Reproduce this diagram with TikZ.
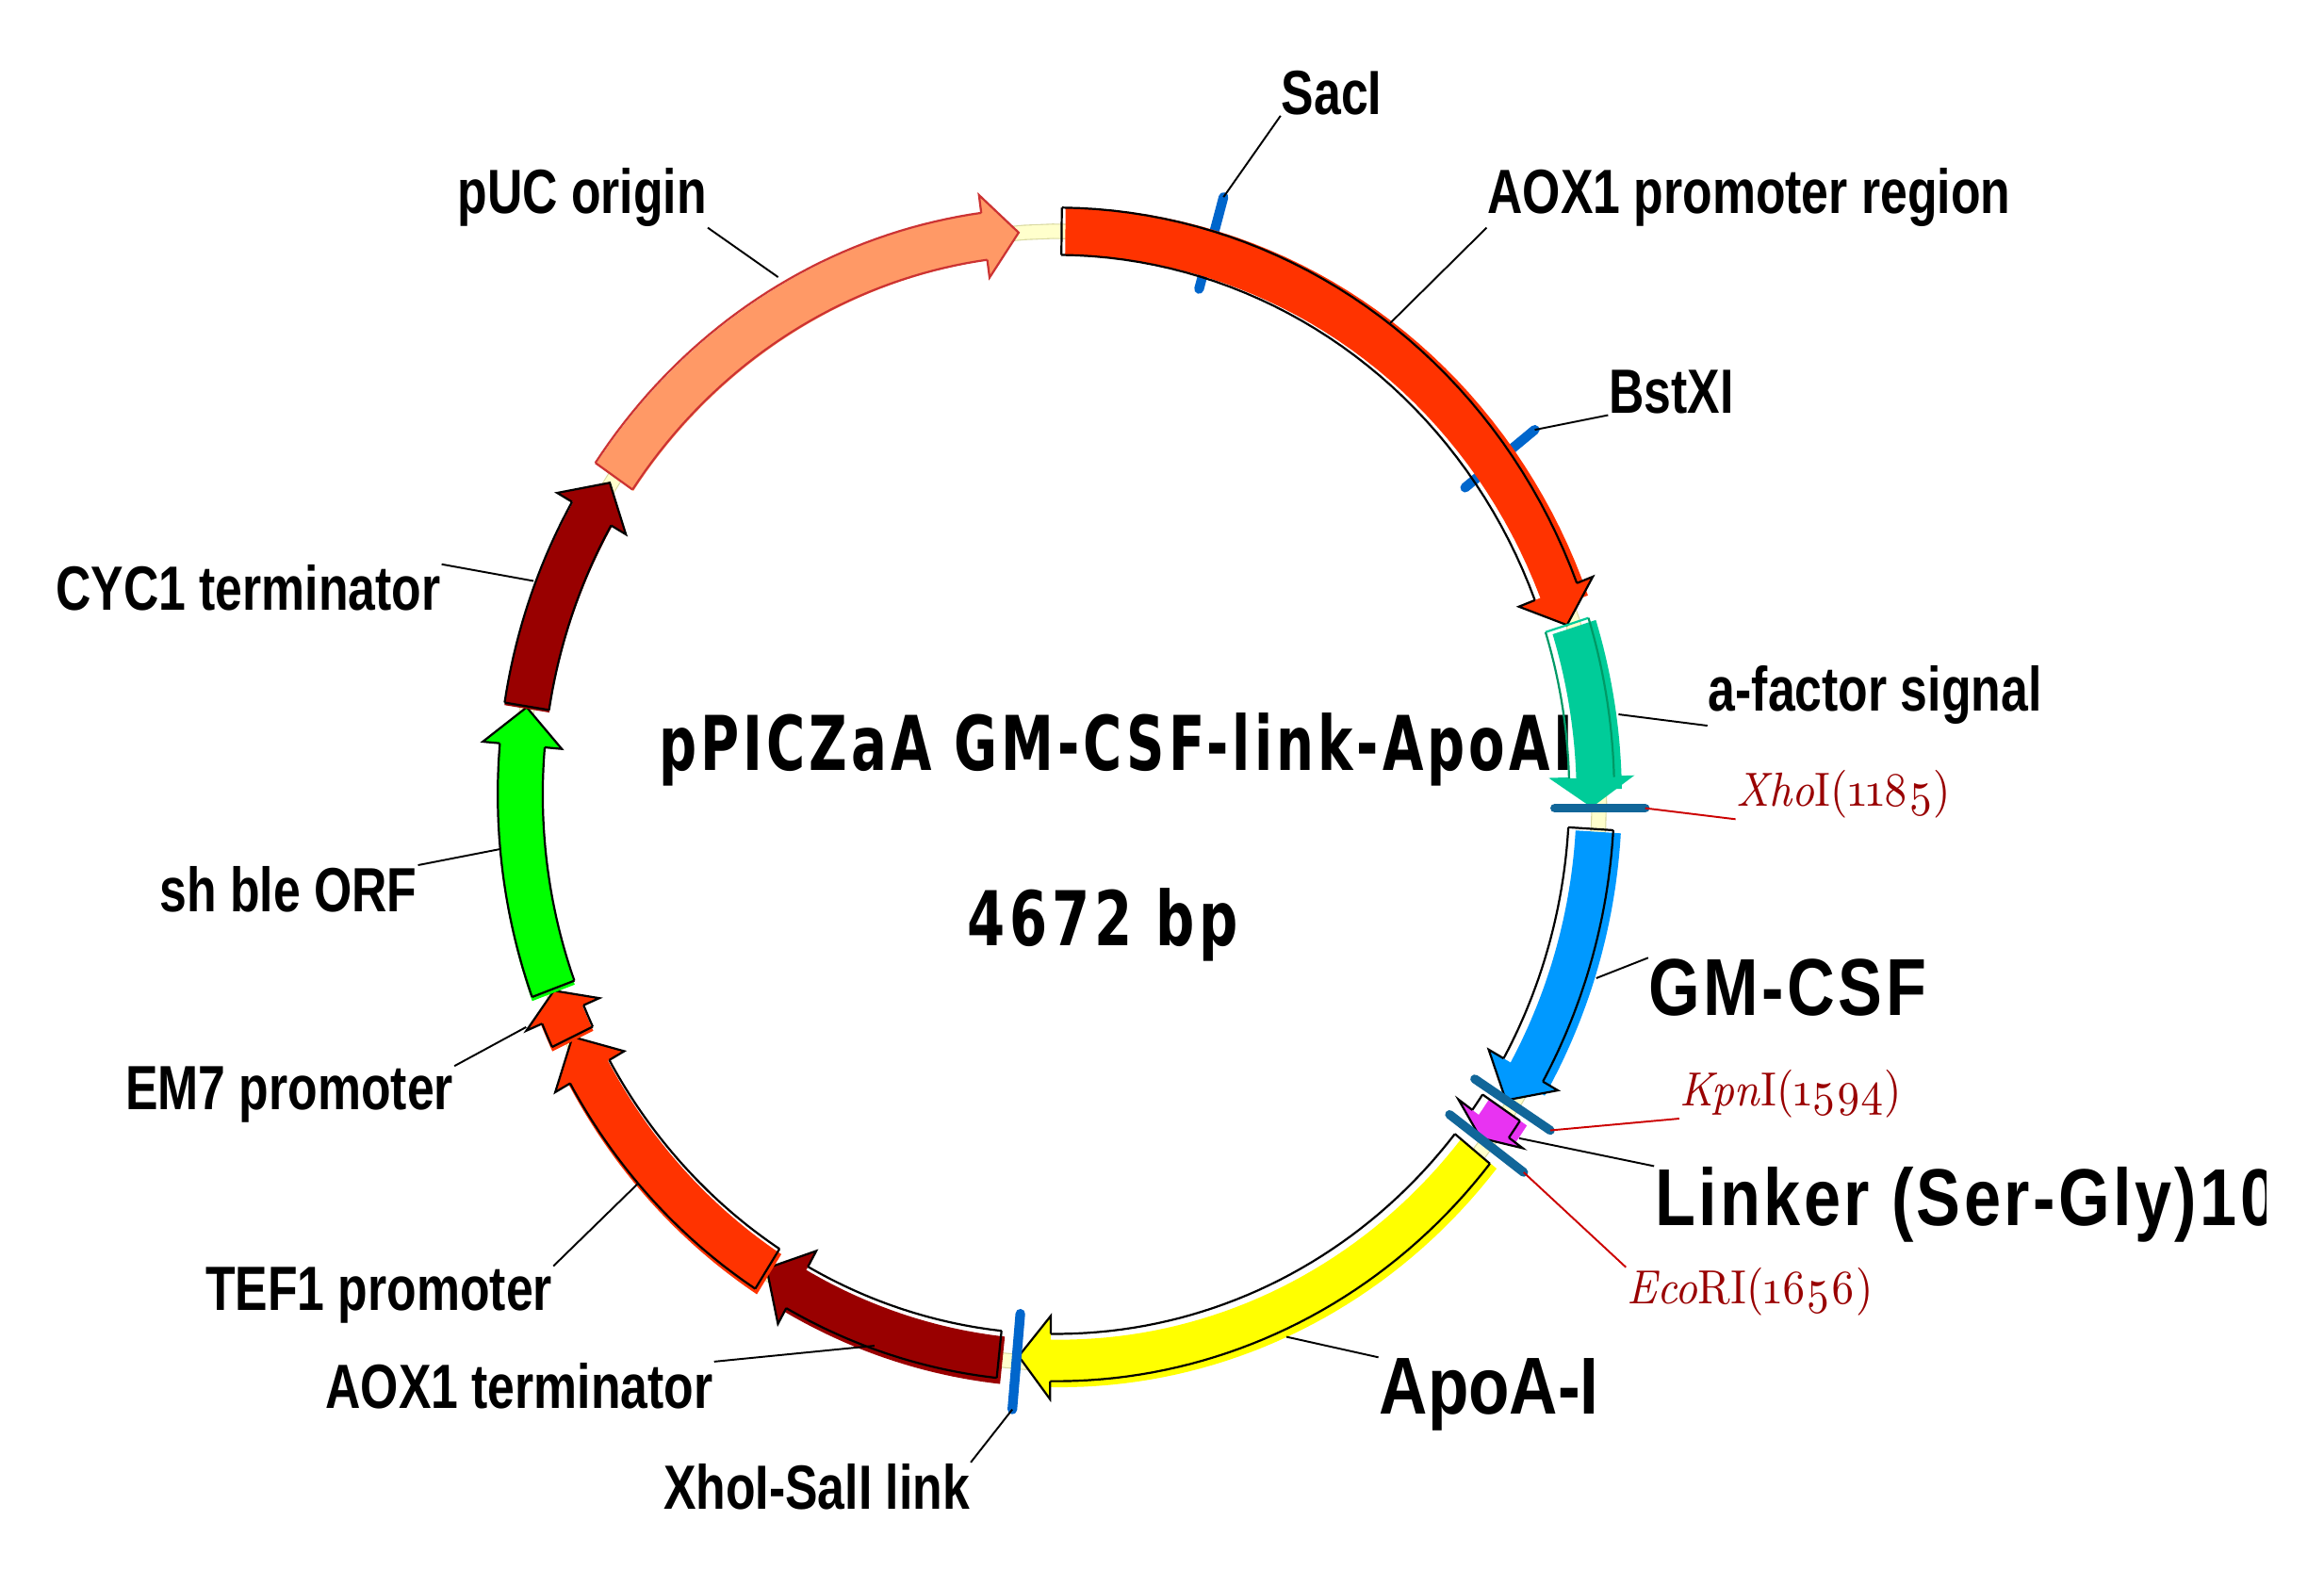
\documentclass[tikz,border=0pt]{standalone}
\usepackage{fontspec}
\usepackage{xcolor}
\setmainfont{Latin Modern Roman}
\newfontfamily\lblfont[FakeStretch=0.78]{Liberation Sans Bold}
\newfontfamily\bigfont[FakeStretch=0.82,LetterSpace=4]{Liberation Sans Bold}
\newfontfamily\apofont[FakeStretch=0.83]{Liberation Sans Bold}
\newfontfamily\namefont[FakeStretch=0.70,LetterSpace=5]{DejaVu Sans Bold}
\newfontfamily\sizefont[FakeStretch=0.72,LetterSpace=6]{DejaVu Sans Bold}
\newfontfamily\sitefont[Numbers=OldStyle,FakeStretch=0.90]{Latin Modern Roman}
\definecolor{promred}{HTML}{FF3300}
\definecolor{sigteal}{HTML}{00CC99}
\definecolor{sigline}{HTML}{009966}
\definecolor{csfblue}{HTML}{0099FF}
\definecolor{linkpink}{HTML}{E833F2}
\definecolor{apoyellow}{HTML}{FFFF00}
\definecolor{bleagreen}{HTML}{00FF00}
\definecolor{termred}{HTML}{990000}
\definecolor{oriorange}{HTML}{FF9966}
\definecolor{oriline}{HTML}{CC3333}
\definecolor{backpale}{HTML}{FFFFCC}
\definecolor{backedge}{HTML}{D8D8A0}
\definecolor{siteblue}{HTML}{0066CC}
\definecolor{cutblue}{HTML}{116699}
\definecolor{sitered}{HTML}{990000}
\definecolor{leadred}{HTML}{CC0000}
\newcommand{\genearrow}[6]{%
	\pgfmathsetmacro{\shaftend}{#2+0.3*(#3-#2)}
	\begin{scope}[ringfill]
		\fill[#4] plot[domain=#1:\shaftend,samples=40] (\x:1.042) -- plot[domain=\shaftend:#1,samples=40] (\x:0.958) -- cycle;
	\end{scope}
	\begin{scope}[ringline]
		\fill[#4] (#2:1.074) -- (#3:1) -- (#2:0.926) -- cycle;
		\draw[#6,line width=0.4pt] (#2:1.042) -- (#2:1.074) -- (#3:1) -- (#2:0.926) -- (#2:0.958);
		\draw[#6,line width=0.4pt] (#1:1.042) -- (#1:0.958);
		\draw[#5,line width=0.4pt] plot[domain=#1:#2,samples=40] (\x:1.042);
		\draw[#5,line width=0.4pt] plot[domain=#1:#2,samples=40] (\x:0.958);
	\end{scope}
}
\begin{document}
\begin{tikzpicture}[
	x=0.1mm, y=0.1mm,
	lbl/.style={inner sep=0pt, anchor=base west, font=\lblfont\fontsize{12}{12}\selectfont},
	biglbl/.style={inner sep=0pt, anchor=base west, font=\bigfont\fontsize{15.5}{16}\selectfont},
	sitelbl/.style={inner sep=0pt, anchor=base west, text=sitered, font=\sitefont\fontsize{9.2}{10}\selectfont},
	title/.style={inner sep=0pt, anchor=base west},
	leader/.style={line width=0.35pt},
	redleader/.style={line width=0.35pt, draw=leadred},
	sitebar/.style={line width=0.65mm, line cap=round, draw=siteblue},
	cutbar/.style={line width=0.6mm, line cap=round, draw=cutblue},
	ringfill/.style={shift={(715,-538)}, x=36.4mm, y=38.2mm},
	ringline/.style={shift={(712.5,-536)}, x=36.15mm, y=38mm}
	]
	\useasboundingbox (0,0) rectangle (1568,-1059);
	
	% centre text goes under the arrows
	\node[title, font=\namefont\fontsize{14.5}{15}\selectfont] (name) at (444,-520) {pPICZaA GM-CSF-link-ApoAI};
	\node[title, font=\sizefont\fontsize{14.5}{15}\selectfont] (size) at (652,-638) {4672 bp};
	
	% backbone and the two sites under the promoter
	\begin{scope}[ringfill]
		\draw[draw=backedge, line width=0.2pt, double=backpale, double distance=0.9mm] plot[domain=0:360,samples=120] (\x:1) -- cycle;
	\end{scope}
	\draw[sitebar] (825.5,-133) coordinate (sacA) -- (809,-195) coordinate (sacB);
	\draw[sitebar] (1035.5,-290) coordinate (bstA) -- (988.5,-329) coordinate (bstB);
	
	% arrows, clockwise from the top
	\genearrow{89.4}{21.1}{17.5}{promred}{black}{black}
	\genearrow{17.5}{1.7}{-1.2}{sigteal}{sigline}{sigteal}
	\genearrow{-3.5}{-29.3}{-32.9}{csfblue}{black}{black}
	\genearrow{-33.8}{-35.8}{-37.6}{linkpink}{black}{black}
	\genearrow{-39}{-90.6}{-94}{apoyellow}{black}{black}
	\genearrow{-96.1}{-118.9}{-122.7}{termred}{black}{black}
	\genearrow{-122.6}{-150.5}{-154.5}{promred}{black}{black}
	\genearrow{-154.5}{-157}{-159.6}{promred}{black}{black}
	\genearrow{200.2}{175}{171.1}{bleagreen}{black}{black}
	\genearrow{171}{150.1}{146.4}{termred}{black}{black}
	\genearrow{145.6}{97.7}{94}{oriorange}{oriline}{oriline}
	
	% cut sites over the arrows
	\draw[cutbar] (1049,-545.3) -- (1110,-545.3) coordinate (xhoA);
	\draw[cutbar] (995,-728) -- (1046,-762.7) coordinate (kpnA);
	\draw[cutbar] (978,-752) -- (1028,-791) coordinate (ecoA);
	\draw[sitebar] (688.4,-886.4) -- (683,-951) coordinate (linkA);
	
	% labels
	\node[lbl] (saci) at (864,-77) {SacI};
	\node[lbl] (puc) at (308,-144) {pUC origin};
	\node[lbl] (aox) at (1003,-144) {AOX1 promoter region};
	\node[lbl] (bst) at (1085,-279) {BstXI};
	\node[lbl] (cyc) at (37,-412) {CYC1 terminator};
	\node[lbl] (afac) at (1152,-480) {a-factor signal};
	\node[sitelbl] (xho) at (1171,-544) {\textit{Xho}I(1185)};
	\node[lbl] (ble) at (107,-615) {sh ble ORF};
	\node[biglbl] (gmcsf) at (1112,-685) {GM-CSF};
	\node[sitelbl] (kpn) at (1133,-746) {\textit{Kpn}I(1594)};
	\node[lbl] (emp) at (84,-749) {EM7 promoter};
	\begin{scope}
		\clip (0,0) rectangle (1529,-1059);
		\node[biglbl] (linker) at (1116,-827) {Linker (Ser-Gly)10};
	\end{scope}
	\node[lbl] (tef) at (138,-884) {TEF1 promoter};
	\node[sitelbl] (eco) at (1097,-880) {\textit{Eco}RI(1656)};
	\node[biglbl, font=\apofont\fontsize{15.5}{16}\selectfont] (apo) at (930,-954) {ApoA-I};
	\node[lbl] (term) at (219,-950) {AOX1 terminator};
	\node[lbl] (link) at (447,-1018) {XhoI-SalI link};
	
	% leaders
	\coordinate (pucA) at (525,-187);
	\coordinate (aoxA) at (938,-218);
	\coordinate (cycA) at (360,-392);
	\coordinate (afacA) at (1092,-482);
	\coordinate (bleA) at (337,-573);
	\coordinate (csfA) at (1077,-660);
	\coordinate (lnkA) at (1025,-768);
	\coordinate (empA) at (355,-693);
	\coordinate (tefA) at (430,-799);
	\coordinate (apoA) at (868,-902);
	\coordinate (termA) at (590,-908);
	
	\draw[leader] (saci.south west) -- (sacA);
	\draw[leader] (puc.south east) -- (pucA);
	\draw[leader] (aox.south west) -- (aoxA);
	\draw[leader] (bst.south west) -- (bstA);
	\draw[leader] (cyc.north east) -- (cycA);
	\draw[leader] (afac.south west) -- (afacA);
	\draw[redleader] (xho.south west) -- (xhoA);
	\draw[leader] (ble.north east) -- (bleA);
	\draw[leader] (gmcsf.north west) -- (csfA);
	\draw[redleader] (kpn.south west) -- (kpnA);
	\draw[leader] (linker.north west) -- (lnkA);
	\draw[leader] (emp.north east) -- (empA);
	\draw[redleader] (eco.north west) -- (ecoA);
	\draw[leader] (tef.north east) -- (tefA);
	\draw[leader] (apo.north west) -- (apoA);
	\draw[leader] (term.north east) -- (termA);
	\draw[leader] (link.north east) -- (linkA);
	
\end{tikzpicture}
\end{document}
